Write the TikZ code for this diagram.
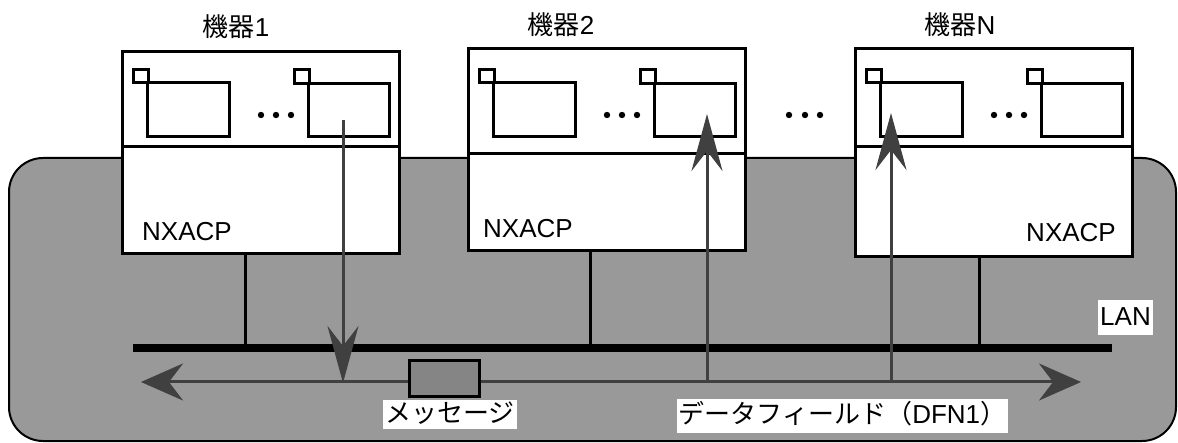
\documentclass[tikz,border=0pt]{standalone}
\usepackage{fontspec}
\setmainfont{Liberation Sans}
\newfontfamily\jp{Noto Sans CJK JP}
\usepackage{tikz}
\usetikzlibrary{arrows.meta}
\usetikzlibrary{calc}

\definecolor{bggray}{HTML}{999999}
\definecolor{msggray}{HTML}{858585}
\definecolor{flowgray}{HTML}{404040}

\tikzset{
    devbox/.style={draw, fill=white, line width=3pt, anchor=north west, inner sep=0pt, minimum width=277pt},
    part/.style={line width=3pt},
    tag/.style={inner sep=0pt, font=\fontsize{26}{30}\selectfont},
    whitetag/.style={fill=white, inner xsep=2pt, inner ysep=1.5pt, text height=21pt, text depth=5pt, font=\fontsize{26}{30}\selectfont},
    flow/.style={draw=flowgray, line width=3pt},
    bushead/.tip={Stealth[length=42pt, width=37pt, inset=14pt]},
    taphead/.tip={Stealth[length=57pt, width=31pt, inset=20pt]}
}

\begin{document}
\begin{tikzpicture}[x=1pt,y=-1pt]
    \useasboundingbox (0,0) rectangle (1178,443);

    % LAN area
    \draw[fill=bggray, line width=2pt, rounded corners=34pt] (9,158) rectangle (1176,441);

    % devices
    \foreach \n/\l/\t/\b/\d in {1/121/50/252/147, 2/467/47/249/154, N/854/47/255/147}{
        \node[devbox, minimum height={\b-\t}] (dev\n) at (\l,\t) {};
        \draw[part] (\l,\d) -- ++(277,0);
        \draw[part] (\l+12,70) rectangle (\l+27,83);
        \draw[part] (\l+26,83) rectangle (\l+108,137);
        \draw[part] (\l+173,70) rectangle (\l+188,84);
        \draw[part] (\l+187,84) rectangle (\l+268,137);
        \foreach \x in {140,155,170}
            \fill (\l+\x,115) circle (3.2pt);
    }
    \foreach \x in {789,805,820}
        \fill (\x,115) circle (3.2pt);

    \node[tag] (name1) at (236,27) {{\jp 機器}1};
    \node[tag] (name2) at (561,25) {{\jp 機器}2};
    \node[tag] (nameN) at (960,25) {{\jp 機器}N};

    \node[tag, anchor=west] (cp1) at (142,232) {NXACP};
    \node[tag, anchor=west] (cp2) at (483,229) {NXACP};
    \node[tag, anchor=east] (cpN) at (1116,233) {NXACP};

    % LAN line
    \coordinate (lanL) at (133,348);
    \coordinate (lanR) at (1112,348);
    \draw[line width=7.5pt] (lanL) -- (lanR);
    \node[whitetag, inner ysep=4.5pt] (lan) at (1125.5,318) {LAN};

    \coordinate (drop1) at (245,348);
    \coordinate (drop2) at (590,348);
    \coordinate (dropN) at (979,348);
    \draw[part] (dev1.south -| drop1) -- (drop1);
    \draw[part] ($(dev2.south -| drop2)+(0,-2)$) -- (drop2);
    \draw[part] (devN.south -| dropN) -- (dropN);

    % data field
    \coordinate (busL) at (141,382);
    \coordinate (busR) at (1081,382);
    \draw[flow, bushead-bushead, fill=flowgray] (busL) -- (busR);

    \coordinate (out1) at (343,120);
    \coordinate (tap1) at (343,383);
    \coordinate (tap2) at (707,382);
    \coordinate (in2) at (707,114);
    \coordinate (tapN) at (891,382);
    \coordinate (inN) at (891,113);
    \draw[flow, -taphead, fill=flowgray] (out1) -- (tap1);
    \draw[flow, -taphead, fill=flowgray] (tap2) -- (in2);
    \draw[flow, -taphead, fill=flowgray] (tapN) -- (inN);

    \node[draw, fill=msggray, line width=3pt, minimum width=70pt, minimum height=36pt] (msg) at (444,379) {};

    \node[whitetag, font=\jp\fontsize{26}{30}\selectfont] (msgtag) at (450,414.5) {メッセージ};
    \node[whitetag, inner ysep=4pt, font=\jp\fontsize{26}{30}\selectfont] (dfn) at (842.5,416) {データフィールド（{\rmfamily DFN1}）};
\end{tikzpicture}
\end{document}
